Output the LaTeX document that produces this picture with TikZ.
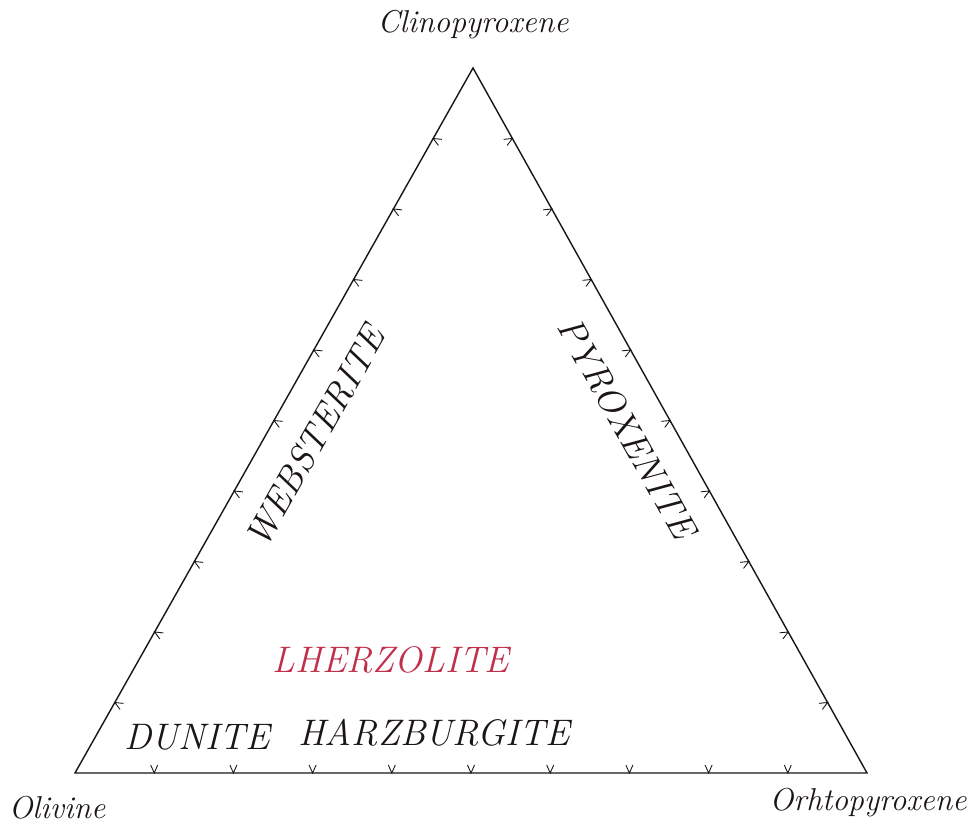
\documentclass[tikz,border=0pt]{standalone}
\usepackage{xcolor}
\usepackage{tikz}
\usetikzlibrary{positioning,calc}
\definecolor{ink}  {HTML}{1B1418}
\definecolor{lherz}{HTML}{C0304A}
\tikzset{
  % --- labels
  apex/.style  = {font=\fontsize{18}{20}\selectfont\itshape, text=ink, inner sep=0pt},
  rock/.style  = {font=\fontsize{21}{23}\selectfont\itshape, text=ink, inner sep=0pt},
  rockr/.style = {rock, text=lherz},
  % --- lines
  edge/.style  = {draw=ink, line width=0.8pt, line join=miter},
  tick/.style  = {draw=ink, line width=0.5pt},
}
\begin{document}
\begin{tikzpicture}
  \useasboundingbox (0,0) rectangle (19.6,16.66);
  \coordinate (ol)  at (1.5,1.2);
  \coordinate (opx) at (17.34,1.2);
  \coordinate (cpx) at (9.46,15.3);
  \draw[edge] (ol) -- (opx) -- (cpx) -- cycle;
  % ticks every 10 percent, pointing inwards
  \foreach \p/\q in {ol/opx,opx/cpx,cpx/ol}{
    \foreach \t in {0.1,0.2,0.3,0.4,0.5,0.6,0.7,0.8,0.9}{
      \coordinate (T) at ($(\p)!\t!(\q)$);
      \coordinate (N) at ($(T)!0.16cm!90:(\q)$);
      \draw[tick] ($(N)!0.07cm!90:(T)$) -- (T) -- ($(N)!0.07cm!-90:(T)$);
    }
  }
  \node[apex] (cpxl) at (9.46,16.16) {Clinopyroxene};
  \node[apex] (oll)  at (1.14,0.5)   {Olivine};
  \node[apex] (opxl) at (17.36,0.6)  {Orhtopyroxene};
  \node[rock]  (dun) at (3.94,1.92)  {DUNITE};
  \node[rock]  (har) at (8.68,2.0)   {HARZBURGITE};
  \node[rockr] (lhe) at (7.82,3.46)  {LHERZOLITE};
  \node[rock, rotate=60.5]  (web) at (6.3,7.92)  {WEBSTERITE};
  \node[rock, rotate=-60.8] (pyr) at (12.54,8.1) {PYROXENITE};
\end{tikzpicture}
\end{document}
